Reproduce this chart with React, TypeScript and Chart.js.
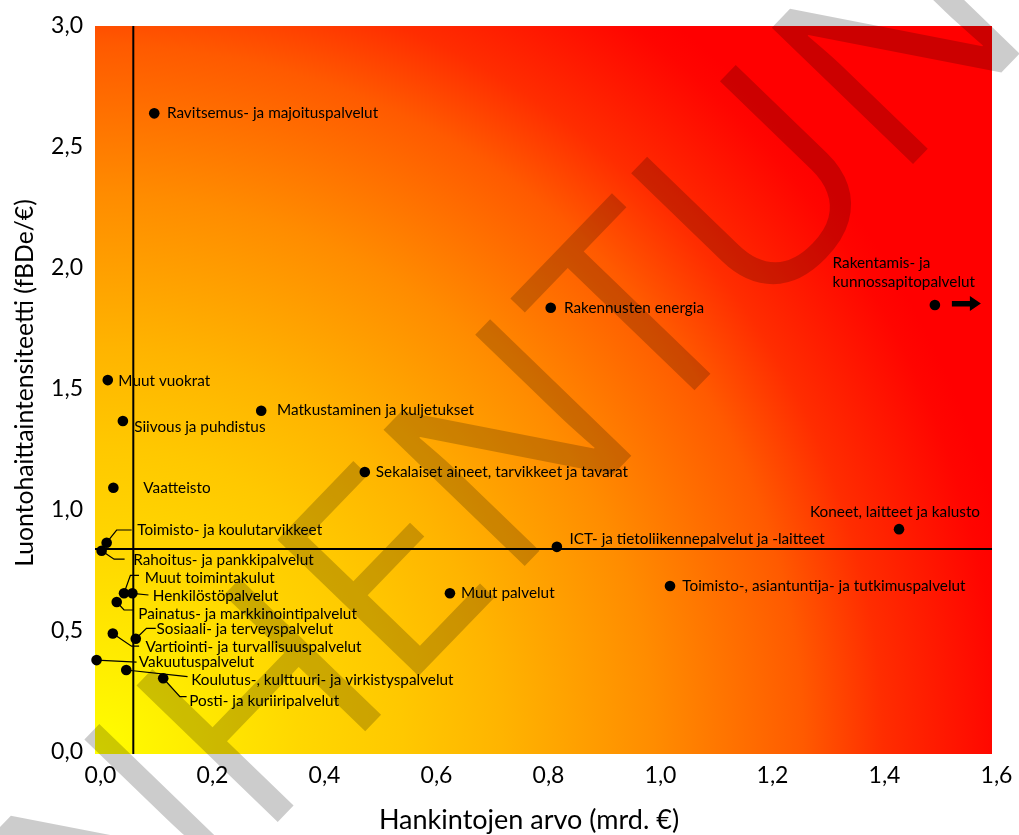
import React, { useEffect, useRef } from "react";
import { Chart, registerables } from "chart.js";

Chart.register(...registerables);

// ---------- data ----------
const categories: string[][] = [
  ["Ravitsemus- ja majoituspalvelut"],
  ["Rakennusten energia"],
  ["Rakentamis- ja", "kunnossapitopalvelut"],
  ["Muut vuokrat"],
  ["Matkustaminen ja kuljetukset"],
  ["Siivous ja puhdistus"],
  ["Sekalaiset aineet, tarvikkeet ja tavarat"],
  ["Vaatteisto"],
  ["Koneet, laitteet ja kalusto"],
  ["ICT- ja tietoliikennepalvelut ja -laitteet"],
  ["Toimisto-, asiantuntija- ja tutkimuspalvelut"],
  ["Muut palvelut"],
  ["Toimisto- ja koulutarvikkeet"],
  ["Rahoitus- ja pankkipalvelut"],
  ["Muut toimintakulut"],
  ["Henkilöstöpalvelut"],
  ["Painatus- ja markkinointipalvelut"],
  ["Sosiaali- ja terveyspalvelut"],
  ["Vartiointi- ja turvallisuuspalvelut"],
  ["Vakuutuspalvelut"],
  ["Koulutus-, kulttuuri- ja virkistyspalvelut"],
  ["Posti- ja kuriiripalvelut"],
];

// Hankintojen arvo (mrd. €)
const procurementValue: number[] = [
  0.104, 0.812, 1.498, 0.021, 0.295, 0.048, 0.48, 0.031, 1.434, 0.823, 1.025,
  0.632, 0.019, 0.01, 0.05, 0.065, 0.037, 0.071, 0.03, 0.001, 0.054, 0.12,
];

// Luontohaittaintensiteetti (fBDe/€)
const intensity: number[] = [
  2.639, 1.836, 1.847, 1.537, 1.41, 1.368, 1.157, 1.092, 0.921, 0.848, 0.686,
  0.656, 0.865, 0.832, 0.656, 0.656, 0.62, 0.468, 0.49, 0.38, 0.339, 0.305,
];

const referenceX = 0.0666;
const referenceY = 0.839;

const xTickValues: number[] = [0, 0.2, 0.4, 0.6, 0.8, 1.0, 1.2, 1.4, 1.6];
const yTickValues: number[] = [0, 0.5, 1.0, 1.5, 2.0, 2.5, 3.0];

const xTitle = "Hankintojen arvo (mrd. €)";
const yTitle = "Luontohaittaintensiteetti (fBDe/€)";
const watermark = "VANHENTUNUT";

// ---------- label layout (pixel offsets from each point) ----------
type LabelLayout = {
  dx: number;
  dy: number;
  align?: "left" | "center";
  lineGap?: number;
  leader?: [number, number][];
  arrow?: boolean;
};

const labelLayout: LabelLayout[] = [
  { dx: 12.7, dy: 0 },
  { dx: 13.3, dy: 0 },
  { dx: -102.3, dy: -41.7, lineGap: 18.5, arrow: true },
  { dx: 10.6, dy: 1 },
  { dx: 15.7, dy: -1 },
  { dx: 11.3, dy: 5.7 },
  { dx: 11, dy: 0 },
  { dx: 30, dy: 0 },
  { dx: -4, dy: -16.7, align: "center" },
  { dx: 12.6, dy: -7.4 },
  { dx: 12.3, dy: 0 },
  { dx: 11, dy: 0 },
  { dx: 30.6, dy: -12.7, leader: [[0, 0], [10, -12.7], [25, -12.7]] },
  { dx: 31.6, dy: 9.3, leader: [[0, 0], [12.5, 8.5], [23, 8.5]] },
  { dx: 20.7, dy: -15.6, leader: [[0, 0], [6.4, -18], [15, -18]] },
  { dx: 20.4, dy: 2.4, leader: [[0, 0], [16, 1.7]] },
  { dx: 21.6, dy: 12, leader: [[0, 0], [7.3, 8], [16.6, 8]] },
  { dx: 20.7, dy: -9.7, leader: [[0, 0], [10.7, -10.4], [20, -10.4]] },
  { dx: 32.7, dy: 13.4, leader: [[0, 0], [18.7, 12.7], [26.3, 12.7]] },
  { dx: 42.3, dy: 1.7, leader: [[0, 0], [40, 2]] },
  { dx: 65, dy: 10, leader: [[0, 0], [61.3, 6.7]] },
  { dx: 26, dy: 22.4, leader: [[0, 0], [16.7, 18.4], [23.4, 18.4]] },
];

const FONT = "Lato, 'Open Sans', sans-serif";

const fmt = (v: number) => v.toFixed(1).replace(".", ",");

const backgroundPlugin = {
  id: "bgGradient",
  beforeDatasetsDraw(chart: any) {
    const { ctx, chartArea: a, scales } = chart;
    ctx.save();
    const R = (a.right - a.left) * 1.04;
    const g = ctx.createRadialGradient(a.left, a.bottom, 0, a.left, a.bottom, R);
    g.addColorStop(0, "rgb(255,255,0)");
    g.addColorStop(0.22, "rgb(255,215,0)");
    g.addColorStop(0.33, "rgb(255,200,0)");
    g.addColorStop(0.435, "rgb(255,180,0)");
    g.addColorStop(0.6, "rgb(255,140,0)");
    g.addColorStop(0.76, "rgb(255,90,0)");
    g.addColorStop(0.845, "rgb(255,45,0)");
    g.addColorStop(0.97, "rgb(255,5,0)");
    g.addColorStop(1, "rgb(255,0,0)");
    ctx.fillStyle = g;
    ctx.fillRect(a.left, a.top, a.right - a.left, a.bottom - a.top);

    // reference lines
    const rx = scales.x.getPixelForValue(referenceX);
    const ry = scales.y.getPixelForValue(referenceY);
    ctx.strokeStyle = "#000";
    ctx.lineWidth = 2;
    ctx.beginPath();
    ctx.moveTo(rx, a.top);
    ctx.lineTo(rx, a.bottom);
    ctx.moveTo(a.left, ry);
    ctx.lineTo(a.right, ry);
    ctx.stroke();
    ctx.restore();
  },
};

const labelsPlugin = {
  id: "pointLabels",
  afterDatasetsDraw(chart: any) {
    const { ctx, chartArea: a } = chart;
    const meta = chart.getDatasetMeta(0);
    ctx.save();
    ctx.fillStyle = "#000";
    ctx.strokeStyle = "#000";
    ctx.font = `15.3px ${FONT}`;
    ctx.textBaseline = "middle";
    meta.data.forEach((el: any, i: number) => {
      const L = labelLayout[i];
      const px = el.x;
      const py = el.y;
      if (L.leader) {
        ctx.lineWidth = 1.2;
        ctx.beginPath();
        L.leader.forEach(([lx, ly], k) => {
          if (k === 0) ctx.moveTo(px + lx, py + ly);
          else ctx.lineTo(px + lx, py + ly);
        });
        ctx.stroke();
      }
      if (L.arrow) {
        ctx.beginPath();
        ctx.moveTo(px + 17, py - 4);
        ctx.lineTo(px + 35, py - 4);
        ctx.lineTo(px + 35, py - 9);
        ctx.lineTo(px + 46, py - 1.5);
        ctx.lineTo(px + 35, py + 6);
        ctx.lineTo(px + 35, py + 1.5);
        ctx.lineTo(px + 17, py + 1.5);
        ctx.closePath();
        ctx.fill();
      }
      ctx.textAlign = L.align === "center" ? "center" : "left";
      const lines = categories[i];
      lines.forEach((t, k) => {
        ctx.fillText(t, px + L.dx, py + L.dy + k * (L.lineGap || 0));
      });
    });
    ctx.restore();

    // axis titles
    ctx.save();
    ctx.fillStyle = "#000";
    ctx.textAlign = "center";
    ctx.textBaseline = "middle";
    ctx.font = `27px ${FONT}`;
    ctx.fillText(xTitle, 529, 820);
    ctx.font = `24.7px ${FONT}`;
    ctx.translate(25, 383);
    ctx.rotate(-Math.PI / 2);
    ctx.fillText(yTitle, 0, 0);
    ctx.restore();
  },
  afterDraw(chart: any) {
    const { ctx } = chart;
    const size = 275;
    ctx.save();
    ctx.translate(511, 439);
    ctx.rotate((-46 * Math.PI) / 180);
    ctx.font = `${size}px 'Open Sans'`;
    ctx.fillStyle = "rgba(0,0,0,0.2)";
    ctx.textAlign = "center";
    ctx.textBaseline = "alphabetic";
    ctx.fillText(watermark, 0, (0.714 * size) / 2);
    ctx.restore();
  },
};

export default function App() {
  const ref = useRef<HTMLCanvasElement | null>(null);

  useEffect(() => {
    if (!ref.current) return;
    const chart = new Chart(ref.current, {
      type: "scatter",
      data: {
        datasets: [
          {
            label: "Hankinnat",
            data: procurementValue.map((x, i) => ({ x, y: intensity[i] })),
            backgroundColor: "#000",
            borderWidth: 0,
            pointRadius: 5.3,
            pointHoverRadius: 5.3,
            clip: false as any,
          },
        ],
      },
      options: {
        animation: false,
        responsive: false,
        devicePixelRatio: 1,
        layout: { padding: { left: 0, right: 27, top: 26, bottom: 0 } },
        plugins: {
          legend: { display: false },
          tooltip: { enabled: false },
        },
        events: [],
        scales: {
          x: {
            type: "linear",
            min: -0.0018,
            max: 1.6,
            grid: { display: false, drawTicks: false },
            border: { display: false },
            afterFit: (s: any) => {
              s.height = 81;
            },
            afterBuildTicks: (s: any) => {
              s.ticks = xTickValues.map((v) => ({ value: v }));
            },
            ticks: {
              padding: 8,
              labelOffset: 4.5,
              color: "#000",
              font: { family: FONT, size: 23 },
              maxRotation: 0,
              autoSkip: false,
              callback: (v: any) => fmt(Number(v)),
            },
          },
          y: {
            type: "linear",
            min: -0.008,
            max: 3,
            grid: { display: false, drawTicks: false },
            border: { display: false },
            afterFit: (s: any) => {
              s.width = 95;
            },
            afterBuildTicks: (s: any) => {
              s.ticks = yTickValues.map((v) => ({ value: v }));
            },
            ticks: {
              padding: 12,
              color: "#000",
              font: { family: FONT, size: 23 },
              autoSkip: false,
              callback: (v: any) => fmt(Number(v)),
            },
          },
        },
      },
      plugins: [backgroundPlugin, labelsPlugin],
    });
    return () => chart.destroy();
  }, []);

  return (
    <div style={{ position: "fixed", left: 0, top: 0, width: 1019, height: 835, background: "#fff" }}>
      <canvas ref={ref} width={1019} height={835} style={{ width: 1019, height: 835, display: "block" }} />
    </div>
  );
}
